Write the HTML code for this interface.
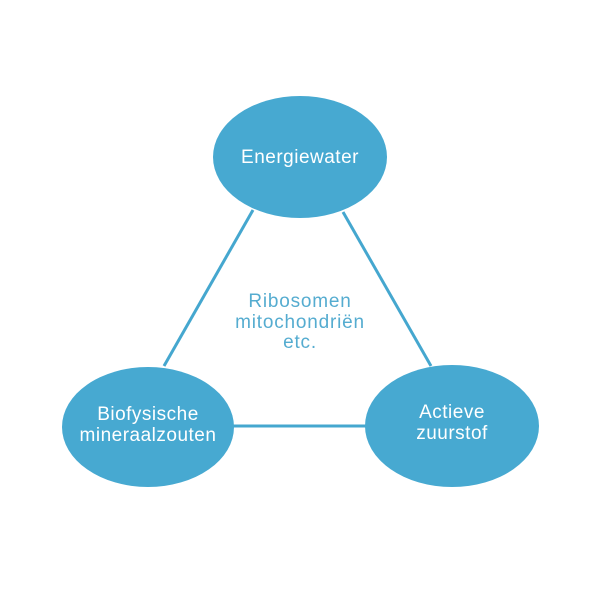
<!DOCTYPE html>
<html><head><meta charset="utf-8"><style>
html,body{margin:0;padding:0;background:#fff;}
svg{display:block;}
text{font-family:"Liberation Sans",sans-serif;}
</style></head><body>
<svg width="600" height="600" viewBox="0 0 600 600" xmlns="http://www.w3.org/2000/svg">
<rect width="600" height="600" fill="#ffffff"/>
<g stroke="#45a7cf" stroke-width="3" fill="none">
<line x1="253" y1="210" x2="164" y2="366"/>
<line x1="343" y1="212" x2="431" y2="366"/>
<line x1="230" y1="426" x2="370" y2="426"/>
</g>
<g fill="#47a9d1">
<ellipse cx="300" cy="157" rx="87" ry="61"/>
<ellipse cx="148" cy="427" rx="86" ry="60"/>
<ellipse cx="452" cy="426" rx="87" ry="61"/>
</g>
<g fill="#ffffff" font-size="19" text-anchor="middle" letter-spacing="0.5">
<text x="300" y="163">Energiewater</text>
<text x="148" y="420">Biofysische</text>
<text x="148" y="441">mineraalzouten</text>
<text x="452" y="418">Actieve</text>
<text x="452" y="439">zuurstof</text>
</g>
<g fill="#55acd0" font-size="19" text-anchor="middle" letter-spacing="0.8">
<text x="300" y="307">Ribosomen</text>
<text x="300" y="328">mitochondriën</text>
<text x="300" y="348">etc.</text>
</g>
</svg>
</body></html>
